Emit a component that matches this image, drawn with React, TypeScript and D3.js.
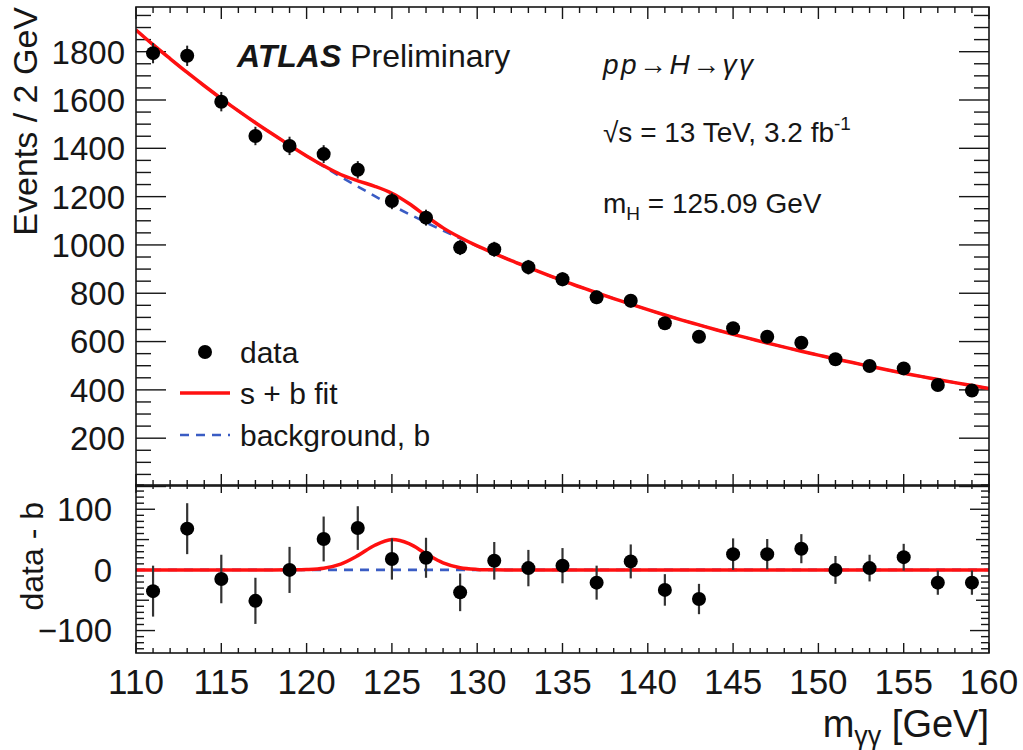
import React from 'react';
import * as d3 from 'd3';

// ---- data ----
const binCenters = [111, 113, 115, 117, 119, 121, 123, 125, 127, 129, 131, 133, 135, 137, 139, 141, 143, 145, 147, 149, 151, 153, 155, 157, 159];
const events = [1794, 1783, 1593, 1451, 1410, 1376, 1311, 1182, 1113, 989, 982, 908, 858, 783, 769, 676, 620, 655, 620, 595, 527, 499, 489, 420, 397];
const eventErrors = [42, 42, 40, 38, 38, 37, 36, 34, 33, 31, 31, 30, 29, 28, 28, 26, 25, 26, 25, 24, 23, 22, 22, 20, 20];
const residuals = [-35, 68, -15, -51, 0, 51, 69, 18, 20, -37, 15, 3, 7, -21, 14, -33, -48, 26, 26, 35, 0, 3, 21, -21, -21];

const fitMass = [110, 111, 112, 113, 114, 115, 116, 117, 118, 119, 120, 121, 122, 123, 124, 125, 126, 127, 128, 129, 130, 131, 132, 133, 134, 135, 136, 137, 138, 139, 140, 141, 142, 143, 144, 145, 146, 147, 148, 149, 150, 151, 152, 153, 154, 155, 156, 157, 158, 159, 160];
const backgroundFit = [1890, 1829, 1771, 1714, 1659, 1606, 1555, 1506, 1459, 1413, 1368, 1325, 1282, 1242, 1202, 1164, 1128, 1093, 1059, 1027, 995, 965, 935, 907, 879, 852, 827, 802, 778, 755, 732, 710, 689, 669, 649, 630, 612, 594, 577, 560, 544, 528, 513, 498, 483, 469, 456, 443, 430, 418, 406];
const signalMass = [119, 120, 121, 122, 123, 124, 125, 126, 127, 128, 129, 130, 131];
const signalFit = [0.1, 0.6, 2.8, 9.6, 23.5, 40.7, 50, 43.3, 26.6, 11.6, 3.6, 0.8, 0.1];

const mainYTicks = [200, 400, 600, 800, 1000, 1200, 1400, 1600, 1800];
const resYTicks = [-100, 0, 100];
const xTicks = [110, 115, 120, 125, 130, 135, 140, 145, 150, 155, 160];

// ---- layout ----
const W = 1023, H = 750;
const L = 136, R = 989;
const mainTop = 7, mainBot = 486;
const resTop = 485, resBot = 653;
const FONT = "'Liberation Sans', Arial, Helvetica, sans-serif";
const INK = '#161616';
const RED = '#ff1010';
const BLUE = '#3a5cc4';

export default function App() {
  const x = d3.scaleLinear().domain([110, 160]).range([L, R]);
  const yMain = d3.scaleLinear().domain([0, 1985]).range([486.5, mainTop]);
  const yRes = d3.scaleLinear().domain([-137, 140]).range([resBot, resTop]);

  const sigAt = (m: number) => {
    const i = signalMass.indexOf(m);
    return i >= 0 ? signalFit[i] : 0;
  };
  const fitRows = fitMass.map((m, i) => ({ m, b: backgroundFit[i], s: sigAt(m) }));

  const lineMain = d3.line<{ m: number; v: number }>()
    .x(d => x(d.m)).y(d => yMain(d.v)).curve(d3.curveCatmullRom);
  const lineRes = d3.line<{ m: number; v: number }>()
    .x(d => x(d.m)).y(d => yRes(d.v)).curve(d3.curveCatmullRom);

  const bgPath = lineMain(fitRows.map(r => ({ m: r.m, v: r.b }))) || '';
  const sbPath = lineMain(fitRows.map(r => ({ m: r.m, v: r.b + r.s }))) || '';
  const bgResPath = lineRes(fitRows.map(r => ({ m: r.m, v: 0 }))) || '';
  const sResPath = lineRes(fitRows.map(r => ({ m: r.m, v: r.s }))) || '';

  const xMinor = d3.range(110, 161, 1);
  const mainYMinor = d3.range(0, 1985, 50);
  const resYMinor = d3.range(-130, 141, 10);

  const tickStroke = { stroke: INK, strokeWidth: 1.4 };

  return (
    <svg width={W} height={H} style={{ position: 'absolute', left: 0, top: 0, background: '#fff' }}
      fontFamily={FONT}>
      <defs>
        <clipPath id="clipMain"><rect x={L} y={mainTop} width={R - L} height={mainBot - mainTop} /></clipPath>
        <clipPath id="clipRes"><rect x={L} y={resTop} width={R - L} height={resBot - resTop} /></clipPath>
      </defs>
      <rect x={0} y={0} width={W} height={H} fill="#fff" />

      {/* ---- main panel ticks ---- */}
      {xMinor.map(v => {
        const major = v % 5 === 0;
        const len = major ? 12 : 6;
        return (
          <g key={'mx' + v}>
            <line x1={x(v)} x2={x(v)} y1={mainBot} y2={mainBot - len} {...tickStroke} />
            <line x1={x(v)} x2={x(v)} y1={mainTop} y2={mainTop + len} {...tickStroke} />
          </g>
        );
      })}
      {mainYMinor.map(v => {
        const major = v % 200 === 0;
        const len = major ? 30 : 15;
        return (
          <g key={'my' + v}>
            <line x1={L} x2={L + len} y1={yMain(v)} y2={yMain(v)} {...tickStroke} />
            <line x1={R} x2={R - len} y1={yMain(v)} y2={yMain(v)} {...tickStroke} />
          </g>
        );
      })}
      {mainYTicks.map(v => (
        <text key={'myl' + v} x={125} y={yMain(v)} dy="0.36em" textAnchor="end" fontSize={33} fill={INK}>{v}</text>
      ))}

      {/* ---- main panel curves & data ---- */}
      <g clipPath="url(#clipMain)">
        <path d={bgPath} fill="none" stroke={BLUE} strokeWidth={2.6} strokeDasharray="9 7" />
        <path d={sbPath} fill="none" stroke={RED} strokeWidth={3.5} />
      </g>
      {binCenters.map((m, i) => (
        <g key={'pt' + m}>
          <line x1={x(m)} x2={x(m)} y1={yMain(events[i] - eventErrors[i])} y2={yMain(events[i] + eventErrors[i])} stroke="#222" strokeWidth={2} />
          <circle cx={x(m)} cy={yMain(events[i])} r={7} fill="#000" />
        </g>
      ))}

      {/* ---- residual panel ticks ---- */}
      {xMinor.map(v => {
        const major = v % 5 === 0;
        return (
          <g key={'rx' + v}>
            <line x1={x(v)} x2={x(v)} y1={resTop} y2={resTop + (major ? 8 : 4)} {...tickStroke} />
            <line x1={x(v)} x2={x(v)} y1={resBot} y2={resBot - (major ? 10 : 5)} {...tickStroke} />
          </g>
        );
      })}
      {resYMinor.map(v => {
        const len = v % 100 === 0 ? 19 : v % 50 === 0 ? 13 : 8;
        return (
          <g key={'ry' + v}>
            <line x1={L} x2={L + len} y1={yRes(v)} y2={yRes(v)} {...tickStroke} />
            <line x1={R} x2={R - len} y1={yRes(v)} y2={yRes(v)} {...tickStroke} />
          </g>
        );
      })}
      {resYTicks.map(v => (
        <text key={'ryl' + v} x={112} y={yRes(v)} dy="0.36em" textAnchor="end" fontSize={33} fill={INK}>
          {v < 0 ? '\u2212' + Math.abs(v) : v}
        </text>
      ))}

      <g clipPath="url(#clipRes)">
        <path d={bgResPath} fill="none" stroke={BLUE} strokeWidth={2.6} strokeDasharray="9 7" />
        <path d={sResPath} fill="none" stroke={RED} strokeWidth={3.5} />
      </g>
      {binCenters.map((m, i) => (
        <g key={'rp' + m}>
          <line x1={x(m)} x2={x(m)} y1={yRes(residuals[i] - eventErrors[i])} y2={yRes(residuals[i] + eventErrors[i])} stroke="#333" strokeWidth={2.2} />
          <circle cx={x(m)} cy={yRes(residuals[i])} r={7} fill="#000" />
        </g>
      ))}

      {/* ---- frames ---- */}
      <rect x={L} y={mainTop} width={R - L} height={mainBot - mainTop} fill="none" stroke={INK} strokeWidth={1.6} />
      <rect x={L} y={resTop} width={R - L} height={resBot - resTop} fill="none" stroke={INK} strokeWidth={1.6} />

      {/* ---- x tick labels & title ---- */}
      {xTicks.map(v => (
        <text key={'xl' + v} x={x(v)} y={694} textAnchor="middle" fontSize={35} fill={INK}>{v}</text>
      ))}
      <text x={R} y={737} textAnchor="end" fontSize={38} fill={INK}>
        m<tspan fontSize={27} dy={8}>γγ</tspan><tspan dy={-8}> [GeV]</tspan>
      </text>

      {/* ---- y titles ---- */}
      <text transform={`translate(37,7) rotate(-90)`} textAnchor="end" fontSize={34} fill={INK}>Events / 2 GeV</text>
      <text transform={`translate(43,502) rotate(-90)`} textAnchor="end" fontSize={32} fill={INK}>data - b</text>

      {/* ---- labels ---- */}
      <text x={237} y={67} fontSize={32} fill={INK}>
        <tspan fontWeight="bold" fontStyle="italic">ATLAS</tspan><tspan> Preliminary</tspan>
      </text>
      <text x={603} y={74} fontSize={28} fill={INK} fontStyle="italic" textLength={150} lengthAdjust="spacing">pp→H→γγ</text>
      <text x={603} y={142} fontSize={28} fill={INK}>
        √s = 13 TeV, 3.2 fb<tspan fontSize={19} dy={-12}>-1</tspan>
      </text>
      <text x={603} y={213} fontSize={28} fill={INK}>
        m<tspan fontSize={19} dy={7}>H</tspan><tspan dy={-7}> = 125.09 GeV</tspan>
      </text>

      {/* ---- legend ---- */}
      <circle cx={205} cy={352} r={7} fill="#000" />
      <text x={240} y={352} dy="0.36em" fontSize={30} fill={INK}>data</text>
      <line x1={180} x2={230} y1={393} y2={393} stroke={RED} strokeWidth={3.5} />
      <text x={240} y={393} dy="0.36em" fontSize={30} fill={INK}>s + b fit</text>
      <line x1={180} x2={230} y1={435} y2={435} stroke={BLUE} strokeWidth={2.6} strokeDasharray="9 7" />
      <text x={240} y={435} dy="0.36em" fontSize={30} fill={INK}>background, b</text>
    </svg>
  );
}
